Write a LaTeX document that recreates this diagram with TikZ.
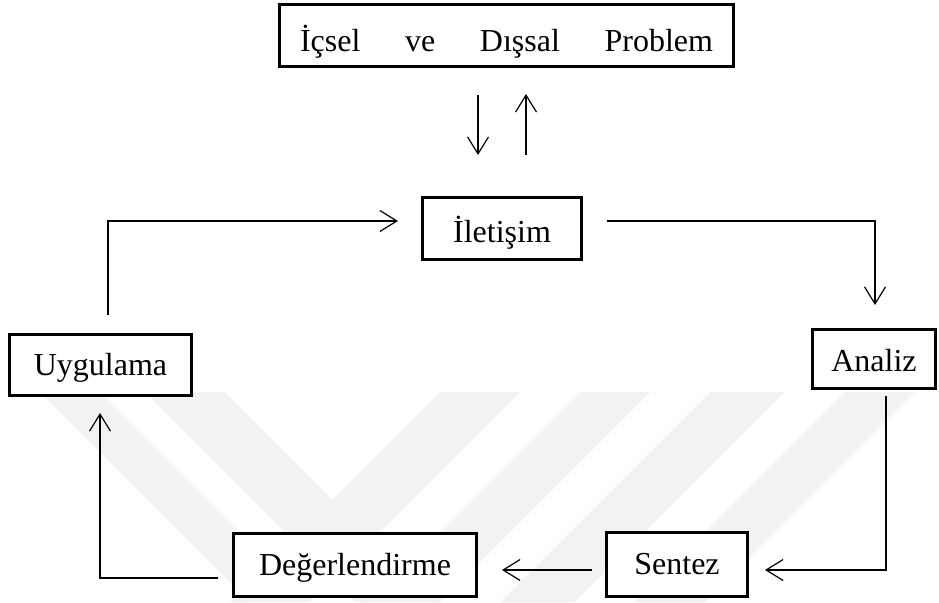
\documentclass[tikz,border=0pt]{standalone}
\usepackage{fontspec}
\setmainfont{Liberation Serif}
\usetikzlibrary{arrows.meta,calc}

\tikzset{
  stage/.style={draw, line width=3pt, fill=white, inner sep=0pt,
    font=\fontsize{32}{37}\selectfont, text height=25pt, text depth=5pt},
  % baseline lowered a little more in some boxes
  lowtext/.style={text height=#1, text depth=0pt},
  link/.style={line width=1.2pt,
    -{Straight Barb[length=17pt,width=21pt,line width=1.2pt]}},
  band/.style={fill=black!5, draw=none}
}

\begin{document}
\begin{tikzpicture}[x=1pt,y=-1pt]
\useasboundingbox (0,0) rectangle (939,602);

% faint diagonal stripes in the lower half
\begin{scope}
  \clip (0,392) rectangle (939,602);
  \foreach \a/\b in {40/100,145/225}
    \fill[band] (\a,392) -- (\b,392) -- (\b+210,602) -- (\a+210,602) -- cycle;
  \foreach \a/\b in {440/520,580/650,710/785,845/915}
    \fill[band] (\a,392) -- (\b,392) -- (\b-210,602) -- (\a-210,602) -- cycle;
\end{scope}

% stages
\node[stage, lowtext=32pt, minimum width=454pt, minimum height=62pt] (prob) at (506.5,35.5)
  {\makebox[413pt][s]{İçsel ve Dışsal Problem}};
\node[stage, lowtext=27pt, minimum width=159pt, minimum height=62pt] (ilet) at (502,228.5) {İletişim};
\node[stage, minimum width=182pt, minimum height=61pt] (uyg) at (100.5,365) {Uygulama};
\node[stage, lowtext=25pt, minimum width=123pt, minimum height=59pt] (ana) at (874,359) {Analiz};
\node[stage, minimum width=141pt, minimum height=64pt] (sen) at (677,564.5) {Sentez};
\node[stage, minimum width=243pt, minimum height=63pt] (deg) at (355,565) {Değerlendirme};

% bends and columns of the connectors
\coordinate (dn) at (478,0);
\coordinate (up) at (526,0);
\coordinate (c1) at (108,221);
\coordinate (c2) at (875,221);
\coordinate (c3) at (886,570);
\coordinate (c4) at (100,578);

% two-way link between problem and communication
\draw[link, shorten <=27pt, shorten >=41pt] (prob.south -| dn) -- (ilet.north -| dn);
\draw[link, shorten <=41pt, shorten >=26pt] (ilet.north -| up) -- (prob.south -| up);

% the cycle
\draw[link, shorten <=18pt, shorten >=23pt] (uyg.north -| c1) -- (c1) -- (c1 -| ilet.west);
\draw[link, shorten <=24pt, shorten >=23pt] (c2 -| ilet.east) -- (c2) -- (c2 |- ana.north);
\draw[link, shorten <=6pt, shorten >=16pt] (ana.south -| c3) -- (c3) -- (c3 -| sen.east);
\draw[link, shorten <=13pt, shorten >=24pt] (c3 -| sen.west) -- (c3 -| deg.east);
\draw[link, shorten <=14pt, shorten >=16pt] (c4 -| deg.west) -- (c4) -- (c4 |- uyg.south);
\end{tikzpicture}
\end{document}
